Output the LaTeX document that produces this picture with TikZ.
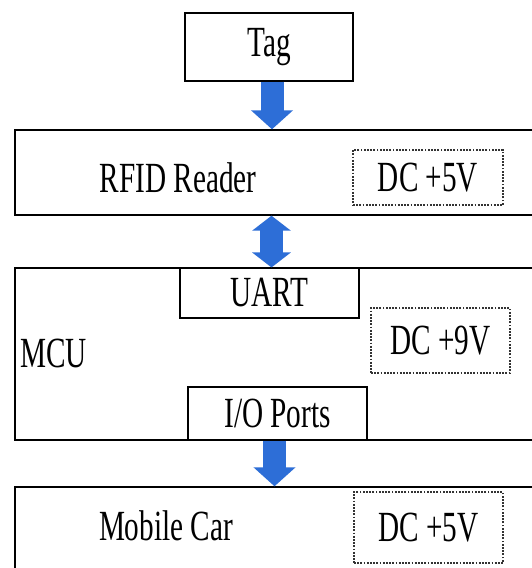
\documentclass[tikz,border=0pt]{standalone}
\usepackage{fontspec}
\setmainfont{Liberation Serif}
\usetikzlibrary{arrows.meta}
\definecolor{arrowblue}{RGB}{45,110,215}
\newcommand{\narrowtxt}[1]{\scalebox{0.68}[1]{#1}}
\tikzset{
  blockbox/.style={draw,line width=1.4pt,inner sep=0pt},
  portbox/.style={draw,line width=1.1pt,inner sep=0pt},
  powerbox/.style={draw=black!80,line width=1.3pt,dash pattern=on 1.8pt off 1.4pt,inner sep=0pt},
  bigarrow/.style={draw=arrowblue,line width=23pt,-{Triangle[width=41pt,length=19pt]}},
  botharrow/.style={draw=arrowblue,line width=23pt,{Triangle[width=38pt,length=15pt]}-{Triangle[width=38pt,length=15pt]}},
}
\begin{document}
\begin{tikzpicture}[x=1pt,y=-1pt,font=\fontsize{43}{48}\selectfont]
  \useasboundingbox[fill=white] (0,0) rectangle (531,568);
  \node[blockbox,minimum width=168pt,minimum height=68pt] (tag) at (269,47) {\narrowtxt{Tag}};

  \node[blockbox,minimum width=530pt,minimum height=85pt] (rfid) at (280,172.5) {};
  \node (rfidlbl) at (178,178) {\narrowtxt{RFID Reader}};
  \node[powerbox,minimum width=150pt,minimum height=55pt] (rfidpwr) at (428,177.5) {\narrowtxt{DC +5V}\hspace{8pt}};

  \node[blockbox,minimum width=530pt,minimum height=172pt] (mcu) at (280,354) {};
  \node[portbox,minimum width=179pt,minimum height=50pt] (uart) at (269.5,293) {\narrowtxt{UART}};
  \node[powerbox,minimum width=139pt,minimum height=65pt] (mcupwr) at (440.5,340.5) {\narrowtxt{DC +9V}};
  \node[anchor=west,inner sep=0pt] (mculbl) at (20,353) {\narrowtxt{MCU}};
  \node[portbox,minimum width=179pt,minimum height=53pt] (io) at (277.5,413.5) {\narrowtxt{I/O Ports}};

  \node[blockbox,minimum width=530pt,minimum height=120pt] (car) at (280,547) {};
  \node (carlbl) at (166,526) {\narrowtxt{Mobile Car}};
  \node[powerbox,minimum width=149pt,minimum height=71pt] (carpwr) at (428.5,527.5) {\narrowtxt{DC +5V}\hspace{6pt}};

  \draw[bigarrow] ([xshift=3pt]tag.south) -- ([xshift=3pt]tag.south |- rfid.north);
  \draw[botharrow] ([xshift=2pt]uart.north |- rfid.south) -- ([xshift=2pt]uart.north);
  \draw[bigarrow] ([xshift=-3pt]io.south) -- ([xshift=-3pt]io.south |- car.north);
\end{tikzpicture}
\end{document}
